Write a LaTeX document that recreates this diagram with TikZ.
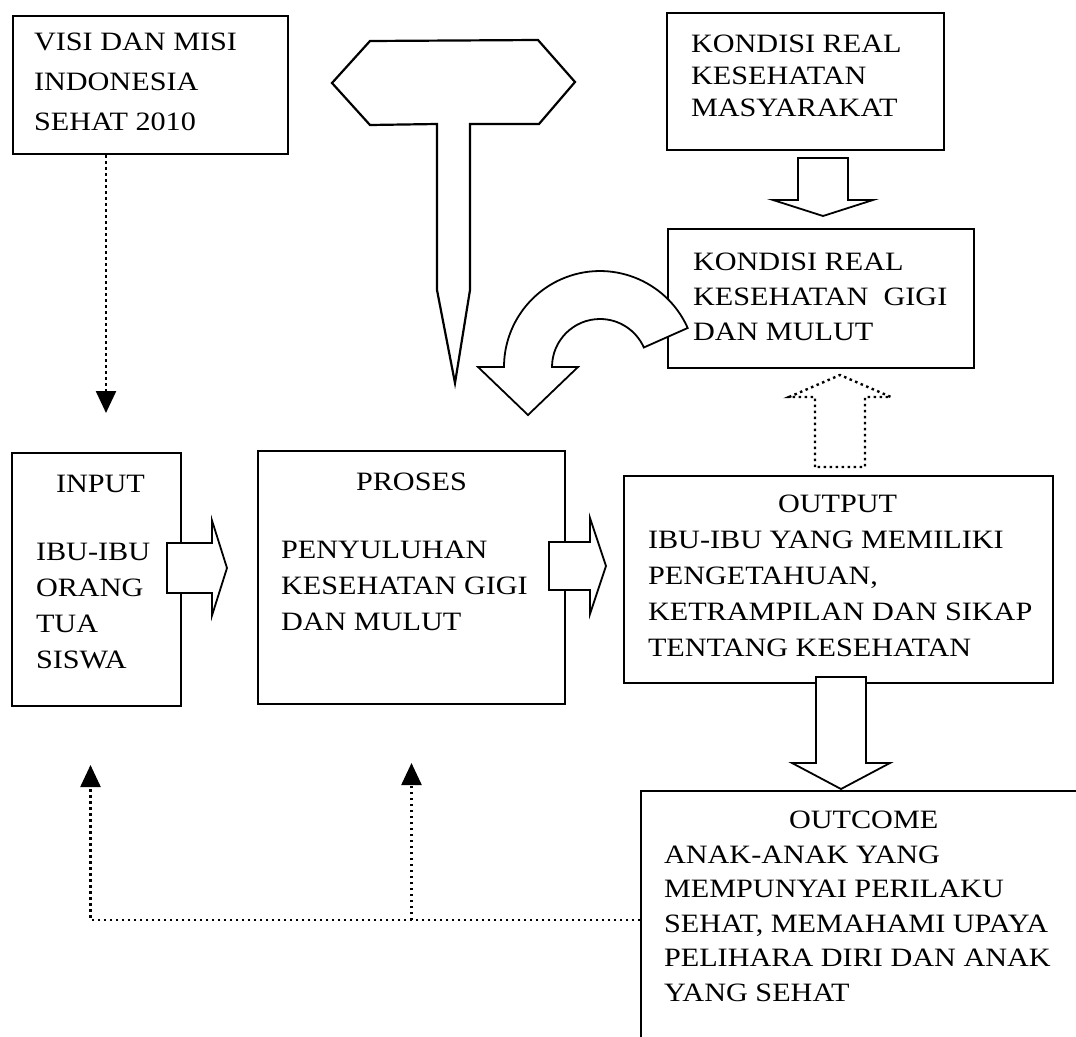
\documentclass[tikz,border=0pt]{standalone}
\usepackage{fontspec}
\setmainfont{Liberation Serif}[FakeStretch=1.14]
\usetikzlibrary{arrows.meta}
% hollow block arrow: [style]{tail}{angle}{length}{shaft half}{head half}{head length}
\newcommand{\blockarrow}[7][]{%
  \draw[barrow,#1,shift={#2},rotate=#3]
    (0,-#5) -- ({#4-#7},-#5) -- ({#4-#7},-#6) -- (#4,0)
    -- ({#4-#7},#6) -- ({#4-#7},#5) -- (0,#5) -- cycle;}

\begin{document}
\begin{tikzpicture}[x=1pt,y=-1pt,line width=2pt,
  box/.style={draw,rectangle,inner sep=0pt,anchor=north west},
  txt/.style={align=left,inner sep=0pt,anchor=north west,font=\fontsize{26.5}{#1}\selectfont},
  txt/.default=35,
  barrow/.style={draw,fill=white,line width=1.8pt},
  dotblk/.style={dash pattern=on 2.5pt off 3.5pt,line width=2.4pt},
  dotarr/.style={line width=2.4pt,dash pattern=on 2.5pt off 3.5pt,-{Triangle[length=22pt,width=20pt]}},
  pinst/.style={draw,fill=white,line width=2.2pt}]
\useasboundingbox (0,0) rectangle (1076,1036);
\clip (0,0) rectangle (1076,1036);

% boxes
\node[box,minimum width=275pt,minimum height=138pt] (visi) at (12,15) {};
\node[box,minimum width=277pt,minimum height=137pt] (masy) at (666,12) {};
\node[box,minimum width=306pt,minimum height=139pt] (gigi) at (667,228) {};
\node[box,minimum width=169pt,minimum height=253pt] (inbox) at (11,452) {};
\node[box,minimum width=307pt,minimum height=253pt] (proses) at (257,450) {};
\node[box,minimum width=429pt,minimum height=207pt] (output) at (623,475) {};
\node[box,minimum width=500pt,minimum height=300pt] (outcome) at (640,790) {};

% texts
\node[txt=40] (visiT) at ([shift={(21,17)}]visi.north west) {VISI DAN MISI\\INDONESIA\\SEHAT 2010};
\node[txt=32] (masyT) at ([shift={(24,22)}]masy.north west) {KONDISI REAL\\KESEHATAN\\MASYARAKAT};
\node[txt] (gigiT) at ([shift={(25,24)}]gigi.north west) {KONDISI REAL\\KESEHATAN\ \ GIGI\\DAN MULUT};
\node[txt=36] (inT) at ([shift={(24,22)}]inbox.north west) {\hspace*{20pt}INPUT\\[32pt]IBU-IBU\\ORANG\\TUA\\SISWA};
\node[txt=36] (prosesT) at ([shift={(23,22)}]proses.north west) {\hspace*{75pt}PROSES\\[32pt]PENYULUHAN\\KESEHATAN GIGI\\DAN MULUT};
\node[txt=36] (outT) at ([shift={(24,19)}]output.north west) {\hspace*{130pt}OUTPUT\\IBU-IBU YANG MEMILIKI\\PENGETAHUAN,\\KETRAMPILAN DAN SIKAP\\TENTANG KESEHATAN};
\node[txt=34.5] (outcomeT) at ([shift={(23,20)}]outcome.north west) {\hspace*{125pt}OUTCOME\\ANAK-ANAK YANG\\MEMPUNYAI PERILAKU\\SEHAT, MEMAHAMI UPAYA\\PELIHARA DIRI DAN ANAK\\YANG SEHAT};

% pin
\draw[pinst] (332,83) -- (370,41) -- (538,40) -- (575,82) -- (539,124) -- (470,124)
  -- (470,290) -- (455,383) -- (437,290) -- (437,124) -- (370,125) -- cycle;

% curved arrow
\draw[barrow] (687.7,328) arc[start angle=-24,end angle=-180,radius=96]
  -- (478,367) -- (528,415) -- (578,367) -- (552,367)
  arc[start angle=-180,end angle=-24,radius=48] -- cycle;

% block arrows
\blockarrow{(167,568)}{0}{60}{25}{47.5}{15}
\blockarrow{(549,566)}{0}{57}{24}{48}{16}
\blockarrow{(823,158)}{-90}{58}{25}{50}{16}
\blockarrow{(841,677)}{-90}{112}{25}{49}{26}
\blockarrow[dotblk]{(840,467)}{90}{92}{25}{51}{22}

% dotted arrows
\draw[dotarr,shorten >=39pt] ([xshift=-44.5pt]visi.south) -- ([xshift=-44.5pt]visi.south |- inbox.north);
\draw[dotarr,shorten >=58pt] ([yshift=-130pt]outcome.north west) -| ([xshift=-6pt]inbox.south);
\draw[dotarr,shorten >=58pt] ([yshift=-130pt]outcome.north west -| proses.south) -- (proses.south);
\end{tikzpicture}
\end{document}
